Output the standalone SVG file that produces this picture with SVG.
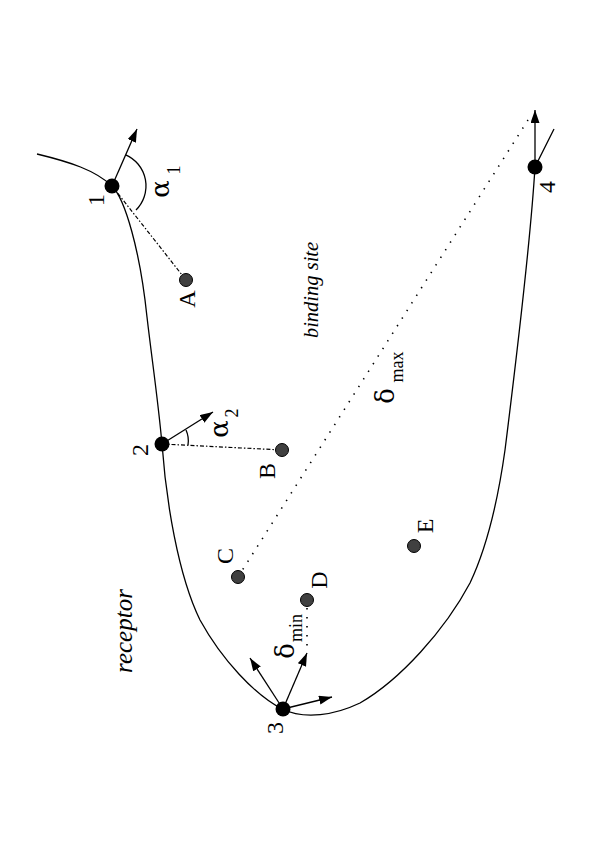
<svg xmlns="http://www.w3.org/2000/svg" width="595" height="842" viewBox="0 0 595 842">
<style>
.bg{fill:#fff}
.line{fill:none;stroke:#000;stroke-width:1.3}
.arrow{fill:none;stroke:#000;stroke-width:1.3;marker-end:url(#ah)}
.dashdot{fill:none;stroke:#000;stroke-width:1.2;stroke-dasharray:4 2 1.5 2}
.dots{fill:none;stroke:#000;stroke-width:1.6;stroke-dasharray:1.4 7.6}
.site{fill:#000}
.lig{fill:#404040;stroke:#000;stroke-width:1}
.lbl{font-family:"Liberation Serif","Times New Roman",serif;font-size:24px;fill:#000;text-anchor:middle}
.grk{font-family:"DejaVu Serif","Liberation Serif",serif;font-size:26px;fill:#000;text-anchor:middle}
.sub{font-family:"Liberation Serif","Times New Roman",serif;font-size:18px;fill:#000;text-anchor:middle}
.it{font-family:"Liberation Serif","Times New Roman",serif;font-style:italic;fill:#000;text-anchor:middle}
</style>
<defs>
<marker id="ah" markerUnits="userSpaceOnUse" markerWidth="14" markerHeight="10" refX="13" refY="4.5" orient="auto">
<path d="M0,0 L13,4.5 L0,9 z" fill="#000"/>
</marker>
</defs>
<rect class="bg" width="595" height="842"/>
<g id="receptor-surface">
<path class="line" d="M37,154 C70,162 95,170 112,186 C125,199 140,250 147,317 C152,360 158,400 162,444 C166,500 178,575 200,620 C222,660 255,695 282,709 C305,720 335,715 360,703 C400,680 445,630 470,583 C488,545 498,500 505,450 C515,370 530,250 535,167 L554,129"/>
</g>
<g id="connectors">
<line class="dashdot" x1="112" y1="186" x2="186" y2="280"/>
<line class="dashdot" x1="162" y1="444" x2="282" y2="450"/>
<line class="dots" x1="238" y1="577" x2="528" y2="120"/>
<line class="dots" x1="307" y1="608" x2="307" y2="650"/>
<path class="line" d="M125.7,154.8 A34,34 0 0 1 136,210"/>
<path class="line" d="M186,430 A26,26 0 0 1 188,445"/>
<line class="arrow" x1="112" y1="186" x2="137" y2="129"/>
<line class="arrow" x1="162" y1="444" x2="213" y2="412"/>
<line class="arrow" x1="283" y1="709" x2="250" y2="658"/>
<line class="arrow" x1="283" y1="709" x2="307" y2="653"/>
<line class="arrow" x1="283" y1="709" x2="332" y2="697"/>
<line class="arrow" x1="535" y1="167" x2="535" y2="110"/>
</g>
<g id="site-1">
<circle class="site" cx="112" cy="186" r="7.5"/>
<text class="lbl" transform="translate(104,200) rotate(-90)">1</text>
<text class="grk" transform="translate(169,189) rotate(-90)">α</text>
<text class="sub" transform="translate(180,170) rotate(-90)">1</text>
</g>
<g id="site-2">
<circle class="site" cx="162" cy="444" r="7.5"/>
<text class="lbl" transform="translate(148,450) rotate(-90)">2</text>
<text class="grk" transform="translate(228,429) rotate(-90)">α</text>
<text class="sub" transform="translate(238,413) rotate(-90)">2</text>
</g>
<g id="site-3">
<circle class="site" cx="283" cy="709" r="7.5"/>
<text class="lbl" transform="translate(283,728) rotate(-90)">3</text>
</g>
<g id="site-4">
<circle class="site" cx="535" cy="167" r="7.5"/>
<text class="lbl" transform="translate(555,187) rotate(-90)">4</text>
</g>
<g id="ligand-A">
<circle class="lig" cx="186" cy="280" r="6.5"/>
<text class="lbl" transform="translate(195,299) rotate(-90)">A</text>
</g>
<g id="ligand-B">
<circle class="lig" cx="282" cy="450" r="6.5"/>
<text class="lbl" transform="translate(275,471) rotate(-90)">B</text>
</g>
<g id="ligand-C">
<circle class="lig" cx="238" cy="577" r="6.5"/>
<text class="lbl" transform="translate(233,556) rotate(-90)">C</text>
</g>
<g id="ligand-D">
<circle class="lig" cx="307" cy="600" r="6.5"/>
<text class="lbl" transform="translate(327,580) rotate(-90)">D</text>
</g>
<g id="ligand-E">
<circle class="lig" cx="414" cy="546" r="6.5"/>
<text class="lbl" transform="translate(433,526) rotate(-90)">E</text>
</g>
<g id="labels">
<text class="grk" transform="translate(294,651) rotate(-90)">δ</text>
<text class="sub" transform="translate(302,628) rotate(-90)">min</text>
<text class="grk" transform="translate(394,396) rotate(-90)">δ</text>
<text class="sub" transform="translate(403,367) rotate(-90)">max</text>
<text class="it" font-size="20.5" transform="translate(318,290) rotate(-90)">binding site</text>
<text class="it" font-size="25" transform="translate(132,631) rotate(-90)">receptor</text>
</g>
</svg>
